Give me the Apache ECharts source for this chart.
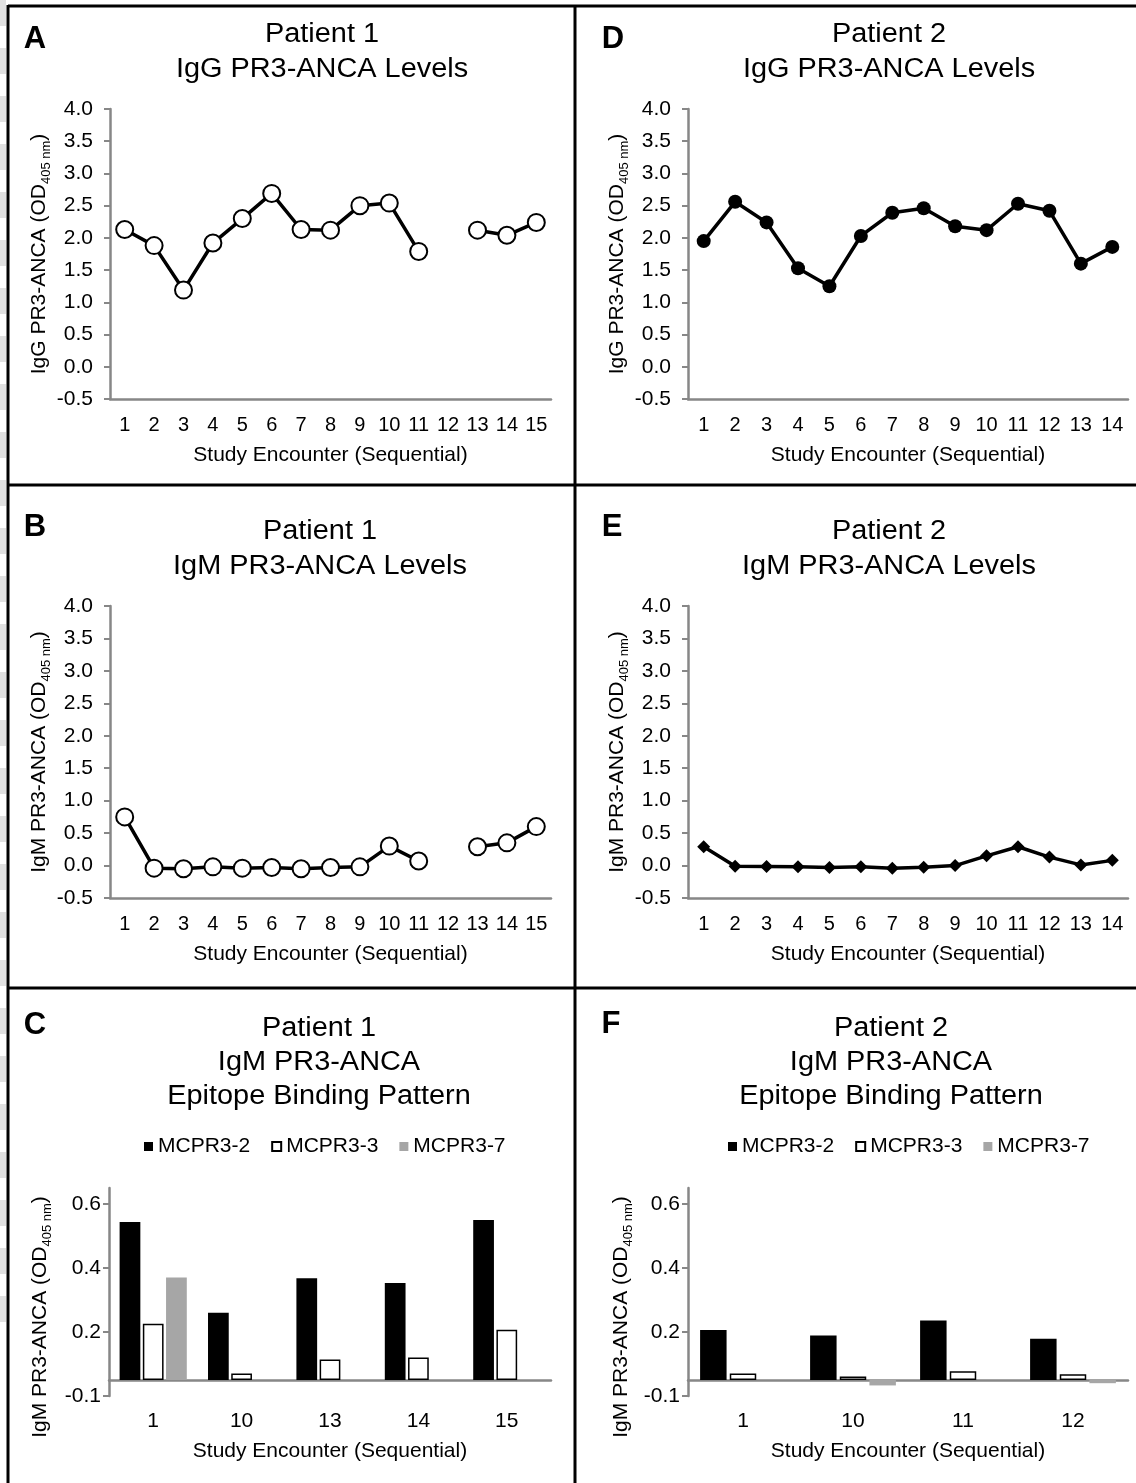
<!DOCTYPE html>
<html>
<head>
<meta charset="utf-8">
<title>PR3-ANCA levels</title>
<script src="https://cdn.jsdelivr.net/npm/echarts@6/dist/echarts.min.js"></script>
<style>
  html, body { margin: 0; padding: 0; background: #fff; }
  #chart { width: 1136px; height: 1483px; }
</style>
</head>
<body>
<div id="chart"></div>
<script>
  // study encounters
  var p1Encounters = ['1', '2', '3', '4', '5', '6', '7', '8', '9', '10', '11', '12', '13', '14', '15']
  var p2Encounters = ['1', '2', '3', '4', '5', '6', '7', '8', '9', '10', '11', '12', '13', '14']

  // PR3-ANCA levels (OD 405 nm), null = no sample
  var p1IgG = [2.13, 1.88, 1.19, 1.92, 2.30, 2.69, 2.13, 2.12, 2.50, 2.54, 1.79, null, 2.12, 2.04, 2.24]
  var p2IgG = [1.95, 2.56, 2.24, 1.53, 1.25, 2.03, 2.39, 2.46, 2.18, 2.12, 2.53, 2.42, 1.60, 1.86]
  var p1IgM = [0.75, -0.04, -0.05, -0.02, -0.04, -0.03, -0.05, -0.03, -0.02, 0.30, 0.07, null, 0.29, 0.35, 0.60]
  var p2IgM = [0.29, -0.01, -0.015, -0.02, -0.03, -0.02, -0.04, -0.025, 0.0, 0.15, 0.29, 0.13, 0.01, 0.08]
  var levelTicks = [-0.5, 4.0, 0.5] // min, max, step

  // epitope binding pattern, read against the printed tick labels
  var epitopeNames = ['MCPR3-2', 'MCPR3-3', 'MCPR3-7']
  var p1EpitopeEncounters = ['1', '10', '13', '14', '15']
  var p1Mcpr32 = [0.544, 0.260, 0.368, 0.353, 0.550]
  var p1Mcpr33 = [0.226, 0.070, 0.114, 0.120, 0.207]
  var p1Mcpr37 = [0.370, null, null, null, null]
  var p2EpitopeEncounters = ['1', '10', '11', '12']
  var p2Mcpr32 = [0.206, 0.189, 0.236, 0.179]
  var p2Mcpr33 = [0.070, 0.061, 0.077, 0.068]
  var p2Mcpr37 = [null, 0.033, null, 0.040]
  var epitopeTicks = [0, 0.2, 0.4, 0.6]
  var epitopeTickLabels = ['-0.1', '0.2', '0.4', '0.6']
  var epitopeBase = 0.05 // value where the bars start (category axis crossing)
  var epitopeTop = 0.65

  var font = '"Liberation Sans", Arial, Helvetica, sans-serif'
  var axisColor = '#878787'

  var nameRich = {
    a: { fontSize: 21, fontFamily: font, color: '#000', lineHeight: 27 },
    b: { fontSize: 13, fontFamily: font, color: '#000', lineHeight: 14, verticalAlign: 'bottom' },
  }

  function yName(prefix) {
    return '{a|' + prefix + ' PR3-ANCA (OD}{b|405 nm}{a|)}'
  }

  function encounterXAxis(gridIndex, categories, extra) {
    var axis = {
      gridIndex: gridIndex,
      type: 'category',
      data: categories,
      boundaryGap: true,
      axisLine: { onZero: false, lineStyle: { color: axisColor, width: 2.5 } },
      axisTick: { show: false },
      axisLabel: { fontSize: 20, color: '#000', fontFamily: font, margin: 16, interval: 0 },
      name: 'Study Encounter (Sequential)',
      nameLocation: 'middle',
      nameGap: 46,
      nameTextStyle: { fontSize: 21, color: '#000', fontFamily: font },
    }
    return Object.assign(axis, extra || {})
  }

  function levelYAxis(gridIndex, prefix) {
    return {
      gridIndex: gridIndex,
      type: 'value',
      min: levelTicks[0],
      max: levelTicks[1],
      interval: levelTicks[2],
      axisLine: { show: true, lineStyle: { color: axisColor, width: 2.5 } },
      axisTick: { show: true, length: 6, lineStyle: { color: axisColor, width: 2 } },
      axisLabel: {
        fontSize: 21,
        color: '#000',
        fontFamily: font,
        margin: 17,
        formatter: function (v) {
          return v.toFixed(1)
        },
      },
      splitLine: { show: false },
      name: yName(prefix),
      nameLocation: 'middle',
      nameRotate: 90,
      nameGap: 56,
      nameTextStyle: { rich: nameRich },
    }
  }

  function epitopeYAxis(gridIndex, gap) {
    var tickValues = epitopeTicks.map(function (t) {
      return +(t - epitopeBase).toFixed(3)
    })
    return {
      gridIndex: gridIndex,
      type: 'value',
      min: tickValues[0],
      max: +(epitopeTop - epitopeBase).toFixed(3),
      axisLine: { show: true, lineStyle: { color: axisColor, width: 2.5 } },
      axisTick: { show: true, length: 6, customValues: tickValues, lineStyle: { color: axisColor, width: 2 } },
      axisLabel: {
        fontSize: 21,
        color: '#000',
        fontFamily: font,
        margin: 8,
        customValues: tickValues,
        formatter: function (v) {
          var best = 0
          tickValues.forEach(function (t, i) {
            if (Math.abs(t - v) < Math.abs(tickValues[best] - v)) best = i
          })
          return epitopeTickLabels[best]
        },
      },
      splitLine: { show: false },
      name: yName('IgM'),
      nameLocation: 'middle',
      nameRotate: 90,
      nameGap: gap,
      nameTextStyle: { rich: nameRich, padding: [0, 50, 0, 0] },
    }
  }

  function shift(values) {
    return values.map(function (v) {
      return v == null ? null : +(v - epitopeBase).toFixed(3)
    })
  }

  function epitopeSeries(axisIndex, lists, categoryGap) {
    var styles = [
      { color: '#000' },
      { color: '#fff', borderColor: '#000', borderWidth: 1.5 },
      { color: '#a6a6a6' },
    ]
    return lists.map(function (list, i) {
      return {
        name: epitopeNames[i],
        type: 'bar',
        xAxisIndex: axisIndex,
        yAxisIndex: axisIndex,
        data: shift(list),
        barGap: '12%',
        barCategoryGap: categoryGap,
        itemStyle: styles[i],
      }
    })
  }

  function levelSeries(axisIndex, data, marker) {
    return {
      type: 'line',
      xAxisIndex: axisIndex,
      yAxisIndex: axisIndex,
      data: data,
      connectNulls: false,
      symbol: marker.symbol,
      symbolSize: marker.size,
      showAllSymbol: true,
      lineStyle: { color: '#000', width: 3.5 },
      itemStyle: marker.style,
      z: 3,
    }
  }

  var openCircle = { symbol: 'circle', size: 17, style: { color: '#fff', borderColor: '#000', borderWidth: 2 } }
  var filledCircle = { symbol: 'circle', size: 14, style: { color: '#000', borderColor: '#000', borderWidth: 0 } }
  var diamond = { symbol: 'diamond', size: 13, style: { color: '#000', borderColor: '#000', borderWidth: 0 } }

  // panel headings
  var headings = [
    { x: 322, y: 17, lh: 35, text: 'Patient 1\nIgG PR3-ANCA Levels' },
    { x: 889, y: 17, lh: 35, text: 'Patient 2\nIgG PR3-ANCA Levels' },
    { x: 320, y: 514, lh: 35, text: 'Patient 1\nIgM PR3-ANCA Levels' },
    { x: 889, y: 514, lh: 35, text: 'Patient 2\nIgM PR3-ANCA Levels' },
    { x: 319, y: 1012, lh: 34, text: 'Patient 1\nIgM PR3-ANCA\nEpitope Binding Pattern' },
    { x: 891, y: 1012, lh: 34, text: 'Patient 2\nIgM PR3-ANCA\nEpitope Binding Pattern' },
  ]
  var letters = [
    { x: 35, y: 39, t: 'A' },
    { x: 613, y: 39, t: 'D' },
    { x: 35, y: 527, t: 'B' },
    { x: 612, y: 527, t: 'E' },
    { x: 35, y: 1025, t: 'C' },
    { x: 611, y: 1024, t: 'F' },
  ]

  var graphics = []
  // torn left edge
  graphics.push({
    type: 'line',
    shape: { x1: 3, y1: 0, x2: 3, y2: 1330 },
    style: { stroke: '#e0e0e0', lineWidth: 6, lineDash: [26, 22] },
  })
  // panel frame
  var frame = [
    [8, 6, 1136, 6],
    [8, 485, 1136, 485],
    [8, 988, 1136, 988],
    [8, 5, 8, 1483],
    [575, 5, 575, 1483],
  ]
  frame.forEach(function (f) {
    graphics.push({
      type: 'line',
      shape: { x1: f[0], y1: f[1], x2: f[2], y2: f[3] },
      style: { stroke: '#000', lineWidth: 3 },
    })
  })
  headings.forEach(function (h) {
    graphics.push({
      type: 'text',
      x: h.x,
      y: h.y,
      scaleX: 1.07,
      style: {
        text: h.text,
        font: '27px ' + font,
        fill: '#000',
        textAlign: 'center',
        align: 'center',
        textVerticalAlign: 'top',
        verticalAlign: 'top',
        lineHeight: h.lh,
      },
    })
  })
  letters.forEach(function (l) {
    graphics.push({
      type: 'text',
      x: l.x,
      y: l.y,
      style: {
        text: l.t,
        font: 'bold 31px ' + font,
        fill: '#000',
        textAlign: 'center',
        align: 'center',
        textVerticalAlign: 'middle',
        verticalAlign: 'middle',
      },
    })
  })

  var legendBase = {
    data: epitopeNames,
    top: 1131,
    icon: 'rect',
    itemWidth: 9,
    itemHeight: 9,
    itemGap: 21,
    selectedMode: false,
    textStyle: { fontSize: 21, color: '#000', fontFamily: font },
  }

  var epitopeXAxis = {
    axisLine: { onZero: true, lineStyle: { color: axisColor, width: 2.5 } },
    axisLabel: { fontSize: 21, color: '#000', fontFamily: font, margin: 15, interval: 0 },
    nameGap: 45,
  }

  var chart = echarts.init(document.getElementById('chart'), null, { renderer: 'canvas' })
  chart.setOption({
    animation: false,
    backgroundColor: '#fff',
    textStyle: { fontFamily: font },
    graphic: { elements: graphics },
    legend: [Object.assign({ left: 139 }, legendBase), Object.assign({ left: 723 }, legendBase)],
    grid: [
      { left: 110, top: 109, width: 441, height: 290 },
      { left: 688, top: 109, width: 440, height: 290 },
      { left: 110, top: 606, width: 441, height: 292 },
      { left: 688, top: 606, width: 440, height: 292 },
      { left: 109, top: 1188, width: 442, height: 208 },
      { left: 688, top: 1188, width: 440, height: 208 },
    ],
    xAxis: [
      encounterXAxis(0, p1Encounters),
      encounterXAxis(1, p2Encounters),
      encounterXAxis(2, p1Encounters),
      encounterXAxis(3, p2Encounters),
      encounterXAxis(4, p1EpitopeEncounters, epitopeXAxis),
      encounterXAxis(5, p2EpitopeEncounters, epitopeXAxis),
    ],
    yAxis: [
      levelYAxis(0, 'IgG'),
      levelYAxis(1, 'IgG'),
      levelYAxis(2, 'IgM'),
      levelYAxis(3, 'IgM'),
      epitopeYAxis(4, 55),
      epitopeYAxis(5, 53),
    ],
    series: [
      levelSeries(0, p1IgG, openCircle),
      levelSeries(1, p2IgG, filledCircle),
      levelSeries(2, p1IgM, openCircle),
      levelSeries(3, p2IgM, diamond),
    ]
      .concat(epitopeSeries(4, [p1Mcpr32, p1Mcpr33, p1Mcpr37], '24%'))
      .concat(epitopeSeries(5, [p2Mcpr32, p2Mcpr33, p2Mcpr37], '22%')),
  })

  window.addEventListener('resize', function () {
    chart.resize()
  })
</script>
</body>
</html>
